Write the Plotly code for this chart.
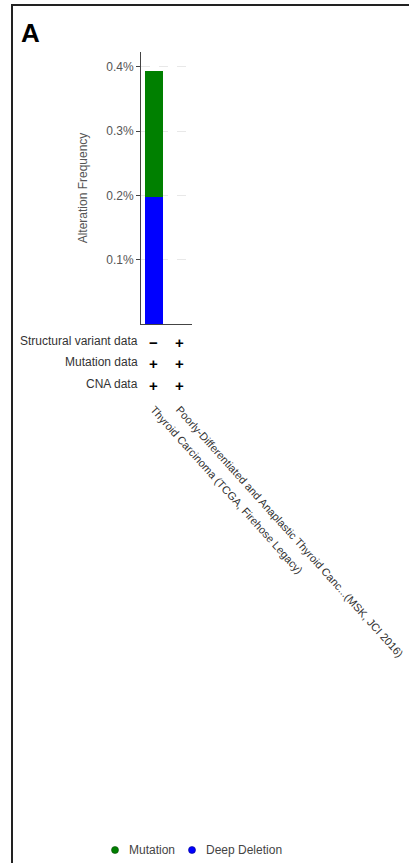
import plotly.graph_objects as go

# ---- data ----
studies = [
    "Thyroid Carcinoma (TCGA, Firehose Legacy)",
    "Poorly-Differentiated and Anaplastic Thyroid Canc...(MSK, JCI 2016)",
]
deep_deletion = [0.197, 0.0]   # % altered
mutation = [0.197, 0.0]        # % altered
row_labels = ["Structural variant data", "Mutation data", "CNA data"]
structural_variant = ["-", "+"]
mutation_data = ["+", "+"]
cna_data = ["+", "+"]
y_tickvals = [0.1, 0.2, 0.3, 0.4]
y_ticktext = ["0.1%", "0.2%", "0.3%", "0.4%"]
legend_names = ["Mutation", "Deep Deletion"]

# ---- layout geometry (pixels) ----
W, H = 409, 863
PL, PR, PT, PB = 141, 192, 52, 324
FONT = "Arial, Liberation Sans, sans-serif"


def px_x(px):
    return (px - PL) / (PR - PL)


def px_y(py):
    return (PB - py) / (PB - PT)


GREEN = "#008000"
BLUE = "#0000ff"
colors = {"Mutation": GREEN, "Deep Deletion": BLUE}
edge = {"Mutation": "#0a4a0a", "Deep Deletion": "#00008a"}

fig = go.Figure()
fig.add_trace(go.Bar(x=studies, y=deep_deletion, name="Deep Deletion",
                     marker=dict(color=BLUE, line=dict(width=0)), showlegend=False))
fig.add_trace(go.Bar(x=studies, y=mutation, name="Mutation",
                     marker=dict(color=GREEN, line=dict(width=0)), showlegend=False))

annotations = []
shapes = []
# "A" panel label
annotations.append(dict(text="<b>A</b>", x=px_x(19), y=px_y(16), xref="paper", yref="paper",
                        xanchor="left", yanchor="top", showarrow=False,
                        font=dict(family=FONT, size=26, color="#000")))
# availability rows
rows = [structural_variant, mutation_data, cna_data]
row_y = [342, 363, 385]
for lab, vals, ry in zip(row_labels, rows, row_y):
    annotations.append(dict(text=lab, x=px_x(140), y=px_y(ry - 1), xref="paper", yref="paper",
                            xanchor="right", yanchor="middle", showarrow=False,
                            font=dict(family=FONT, size=12, color="#333")))
    for st, v in zip(studies, vals):
        sym = "<b>+</b>" if v == "+" else "<b>\u2212</b>"
        annotations.append(dict(text=sym, x=st, y=px_y(ry), xref="x", yref="paper",
                                xanchor="center", yanchor="middle", showarrow=False,
                                font=dict(family=FONT, size=15, color="#000")))

# legend (circle swatch + label)
leg_marker_x = [115, 192]
LEG_Y = 850
for name, mx in zip(legend_names, leg_marker_x):
    shapes.append(dict(type="circle", xref="paper", yref="paper",
                       x0=px_x(mx - 3.5), x1=px_x(mx + 3.5),
                       y0=px_y(LEG_Y + 3.5), y1=px_y(LEG_Y - 3.5),
                       fillcolor=colors[name], line=dict(color=edge[name], width=0.6)))
    annotations.append(dict(text=name, x=px_x(mx + 12), y=px_y(LEG_Y), xref="paper", yref="paper",
                            xanchor="left", yanchor="middle", showarrow=False,
                            font=dict(family=FONT, size=12, color="#444")))

# frame border
shapes.append(dict(type="path", xref="paper", yref="paper",
                   path=f"M {px_x(12)} {px_y(H + 5)} L {px_x(12)} {px_y(5)} L {px_x(W + 5)} {px_y(5)}",
                   line=dict(color="#222", width=2)))

fig.update_layout(
    width=W, height=H,
    margin=dict(l=PL, r=W - PR, t=PT, b=H - PB, pad=0, autoexpand=False),
    paper_bgcolor="white", plot_bgcolor="white",
    barmode="stack", bargap=0.3, showlegend=False,
    font=dict(family=FONT, size=12, color="#555"),
    annotations=annotations, shapes=shapes,
    xaxis=dict(showline=True, linecolor="#444", linewidth=1, ticks="", showgrid=False,
               tickangle=48, ticklabelstandoff=74,
               tickfont=dict(family=FONT, size=11, color="#333"), fixedrange=True),
    yaxis=dict(range=[0, 0.423], showline=True, linecolor="#444", linewidth=1,
               ticks="outside", ticklen=4, tickcolor="#444",
               tickvals=y_tickvals, ticktext=y_ticktext,
               showgrid=True, gridcolor="#e8e8e8", griddash="dash", zeroline=False,
               title=dict(text="Alteration Frequency", standoff=16,
                          font=dict(family=FONT, size=12, color="#555")),
               tickfont=dict(family=FONT, size=12, color="#555")),
)

fig.write_html("out.html", config={"displayModeBar": False},
               post_script="document.body.style.margin='0';document.body.style.overflow='hidden';")
